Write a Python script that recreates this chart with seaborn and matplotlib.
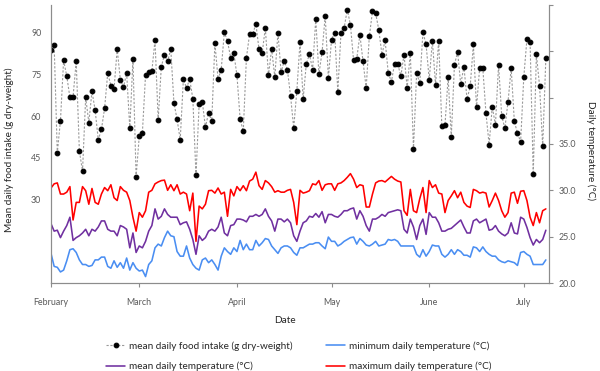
import pandas as pd
import matplotlib.pyplot as plt
import seaborn as sns

# --- Data (one value per day, 1 Feb - 8 Jul) ---
food_intake = [
    83.8, 85.6, 46.8, 58.4, 80.0, 74.4, 66.7, 67.0, 79.7, 47.5,
    40.2, 66.7, 57.7, 68.9, 62.2, 51.5, 55.2, 62.8, 75.5, 71.0,
    69.8, 84.1, 73.1, 70.4, 75.5, 55.6, 80.4, 38.2, 52.8, 54.1,
    74.9, 75.7, 76.2, 87.4, 58.6, 77.8, 82.1, 79.7, 84.1, 64.8,
    58.8, 51.5, 73.3, 70.1, 73.3, 66.2, 38.8, 64.2, 65.2, 56.0,
    61.3, 58.1, 86.3, 73.3, 76.7, 90.2, 86.9, 81.0, 82.7, 74.6,
    59.0, 54.5, 81.0, 89.4, 89.4, 93.2, 84.0, 82.7, 91.7, 74.6,
    84.2, 74.0, 90.0, 75.7, 79.9, 76.7, 67.3, 55.8, 69.1, 86.6,
    66.1, 78.8, 82.2, 76.7, 94.9, 75.1, 83.0, 96.1, 73.7, 87.4,
    90.0, 68.8, 90.0, 91.7, 98.3, 92.8, 80.0, 80.6, 89.2, 79.7,
    70.1, 88.7, 97.7, 97.0, 91.0, 82.1, 87.2, 75.5, 72.4, 78.8,
    78.8, 74.4, 82.1, 70.1, 82.8, 48.1, 75.5, 71.8, 90.1, 85.8,
    73.1, 87.1, 71.2, 87.1, 56.4, 56.8, 74.0, 52.6, 78.5, 83.0,
    71.4, 77.8, 66.1, 70.7, 85.8, 63.1, 77.4, 77.2, 61.1, 49.8,
    63.4, 56.8, 78.5, 60.1, 55.6, 65.2, 77.2, 58.2, 53.8, 50.8,
    74.0, 87.7, 86.5, 39.2, 82.2, 71.0, 49.2, 80.8,
]

temp_max = [
    30.25, 30.7, 30.8, 29.6, 29.6, 29.8, 30.4, 26.8, 28.7, 28.7,
    30.4, 29.96, 28.5, 30.2, 28.7, 28.5, 29.6, 30.3, 29.96, 30.6,
    29.2, 28.9, 30.4, 30.0, 29.8, 28.9, 27.1, 25.6, 27.6, 27.1,
    27.8, 29.8, 30.0, 30.7, 30.9, 31.05, 31.1, 30.0, 30.6, 29.96,
    30.6, 29.6, 29.8, 29.6, 27.8, 29.7, 24.5, 28.3, 28.0, 28.5,
    29.96, 30.0, 29.7, 30.25, 29.6, 29.8, 27.2, 30.1, 29.4, 30.4,
    29.96, 30.5, 29.96, 31.0, 31.2, 31.96, 30.5, 30.1, 31.05, 30.8,
    30.4, 29.8, 29.96, 29.8, 29.8, 30.0, 30.1, 28.7, 26.3,
    30.0, 29.7, 29.8, 29.96, 30.7, 30.6, 31.05, 30.0, 30.6, 30.7,
    30.7, 30.0, 30.7, 30.8, 31.05, 31.4, 31.8, 31.2, 30.3, 30.6,
    30.5, 28.2, 28.2, 29.6, 30.8, 31.0, 31.05, 30.9, 31.2, 31.5,
    31.2, 31.0, 30.9, 27.8, 27.3, 30.1, 27.8, 27.6, 29.1, 30.3,
    27.6, 31.05, 30.3, 30.6, 29.7, 29.6, 27.6, 28.9, 29.4, 29.96,
    29.2, 29.8, 28.7, 28.3,
    28.15, 30.1, 29.96, 29.7, 29.8, 29.7, 28.2, 28.9, 29.7, 28.9,
    27.8, 27.1, 27.6, 29.7, 29.8, 28.6, 29.9, 29.96, 28.9, 27.1,
    26.2, 27.6, 26.5, 27.8, 28.0,
]

temp_mean = [
    26.4, 25.6, 25.7, 24.9, 25.6, 26.2, 27.1, 24.6, 24.9, 25.1,
    25.4, 25.8, 25.1, 25.8, 25.6, 26.05, 26.7, 26.7, 25.8, 25.6,
    25.6, 25.1, 26.2, 26.05, 25.8, 23.8, 25.4, 23.3, 24.0, 23.8,
    24.5, 25.6, 26.2, 28.0, 26.9, 27.2, 28.0, 27.4, 27.1, 27.1,
    27.1, 26.3, 26.5, 26.6, 25.8, 24.7, 23.1, 25.1, 24.6, 24.9,
    25.6, 25.8, 25.6, 26.05, 27.1, 25.4, 25.1, 26.2, 26.3, 26.9,
    26.9, 26.8, 26.6, 27.2, 27.2, 27.4, 27.2, 27.4, 28.0, 27.2,
    26.7, 25.6, 26.9, 26.9, 26.6, 26.9, 26.5, 25.1, 24.5,
    25.6, 26.5, 26.7, 27.2, 27.1, 27.5, 27.1, 27.7, 26.5, 27.4,
    27.4, 27.2, 27.1, 27.4, 27.8, 27.8, 28.0, 28.1, 26.9, 27.8,
    27.2, 26.2, 25.6, 26.9, 26.9, 27.1, 27.4, 27.2, 27.6, 27.7,
    27.8, 27.9, 27.8, 25.8, 25.4, 26.9, 26.05, 24.7, 26.2, 26.9,
    25.25, 27.6, 27.1, 27.1, 26.5, 25.6, 25.6, 25.8, 25.9, 26.2,
    26.5, 26.8, 26.05, 25.4,
    25.4, 26.7, 26.9, 26.5, 26.7, 26.9, 25.7, 25.8, 26.2, 25.6,
    25.3, 25.1, 25.4, 26.5, 25.4, 25.3, 27.1, 26.9, 26.0, 24.9,
    24.1, 24.7, 24.35, 24.7, 25.7,
]

temp_min = [
    23.2, 21.8, 21.7, 21.2, 21.4, 22.4, 23.6, 23.7, 23.3, 22.5,
    22.0, 22.0, 21.8, 21.9, 22.5, 22.5, 22.8, 22.8, 21.8, 21.6,
    22.4, 21.7, 22.2, 21.6, 22.7, 21.4, 22.2, 21.6, 21.3, 21.4,
    20.7, 22.0, 22.4, 23.8, 24.2, 24.0, 24.9, 25.6, 25.1, 25.0,
    23.4, 22.9, 22.9, 24.0, 22.7, 22.0, 21.6, 21.4, 22.5, 22.7,
    22.2, 22.5, 22.0, 21.4, 22.9, 23.8, 23.4, 23.1, 23.8, 23.4,
    24.6, 23.6, 24.2, 23.6, 23.6, 24.6, 24.0, 24.35, 24.8, 24.7,
    24.0, 23.6, 23.2, 23.8, 24.0, 24.0, 23.8, 23.3, 23.0,
    23.8, 23.8, 24.0, 24.2, 24.2, 24.35, 24.35, 24.0, 23.7, 24.96,
    24.5, 24.5, 24.0, 24.2, 24.5, 24.7, 24.9, 24.96, 24.2, 24.8,
    24.5, 24.1, 24.0, 24.2, 24.5, 24.0, 24.1, 24.2, 24.7, 24.6,
    24.7, 24.5, 24.0, 24.0, 24.0, 24.0, 24.0, 23.1, 22.8, 23.6,
    22.9, 23.4, 24.1, 24.0, 24.0, 23.1, 22.8, 23.1, 23.6, 23.1,
    23.6, 23.4, 23.0, 23.0,
    22.8, 23.9, 23.8, 23.4, 23.9, 23.4, 23.1, 22.9, 22.9, 22.5,
    22.3, 22.2, 22.4, 22.3, 22.2, 21.9, 23.3, 23.4, 23.1, 22.9,
    22.0, 22.0, 22.0, 22.0, 22.5,
]

month_labels = ['February', 'March', 'April', 'May', 'June', 'July']
food_ticks = [30, 45, 60, 75, 90]
temp_ticks = [20, 25, 30, 35, 40, 45, 50]
temp_tick_labels = ['20.0', '25.0', '30.0', '35.0', '', '', '']

dates = pd.date_range('2015-02-01', periods=len(food_intake), freq='D')
month_starts = pd.date_range('2015-02-01', '2015-07-01', freq='MS')

df = pd.DataFrame({
    'date': dates,
    'food': food_intake,
    'tmin': temp_min,
    'tmean': temp_mean,
    'tmax': temp_max,
})

sns.set_style('white')
plt.rcParams['font.family'] = ['Lato', 'DejaVu Sans']

AXIS_GREY = '#8c8c8c'
TICK_TXT = '#595959'
LABEL_TXT = '#262626'

fig, ax = plt.subplots(figsize=(6, 3.71), dpi=100)
fig.subplots_adjust(left=0.085, right=0.915, bottom=0.237, top=0.987)
ax2 = ax.twinx()

# --- food intake (left axis) ---
sns.lineplot(data=df, x='date', y='food', ax=ax, color='#9a9a9a', lw=0.8,
             linestyle=(0, (2, 1.5)), marker='o', markersize=3.4,
             markerfacecolor='black', markeredgecolor='black',
             label='mean daily food intake (g dry-weight)', legend=False)

# --- temperatures (right axis) ---
sns.lineplot(data=df, x='date', y='tmin', ax=ax2, color='#4a8ef2', lw=1.15,
             label='minimum daily temperature (°C)', legend=False)
sns.lineplot(data=df, x='date', y='tmean', ax=ax2, color='#7030a0', lw=1.15,
             label='mean daily temperature (°C)', legend=False)
sns.lineplot(data=df, x='date', y='tmax', ax=ax2, color='#ff0000', lw=1.15,
             label='maximum daily temperature (°C)', legend=False)

ax.set_xlim(dates[0], dates[-1] + pd.Timedelta(days=1))
ax.set_ylim(0, 100)
ax2.set_ylim(20, 50)

ax.set_xticks(month_starts)
ax.set_xticklabels(month_labels)
ax.set_yticks(food_ticks)
ax2.set_yticks(temp_ticks)
ax2.set_yticklabels(temp_tick_labels)

ax.tick_params(axis='x', length=3, width=0.8, color=AXIS_GREY, pad=8,
               labelsize=6.4, labelcolor=TICK_TXT, bottom=True)
ax.tick_params(axis='y', length=0, pad=7, labelsize=6.4, labelcolor=TICK_TXT)
ax2.tick_params(axis='y', length=3, width=0.8, color=AXIS_GREY, pad=4,
                labelsize=6.4, labelcolor=TICK_TXT, right=True)

for a in (ax, ax2):
    a.spines['top'].set_visible(False)
    for s in ('left', 'right', 'bottom'):
        a.spines[s].set_color(AXIS_GREY)
        a.spines[s].set_linewidth(0.8)

ax.set_xlabel('Date', fontsize=7.2, color=LABEL_TXT)
ax.xaxis.set_label_coords(0.47, -0.12)
ax.set_ylabel('Mean daily food intake (g dry-weight)', fontsize=7.2, color=LABEL_TXT)
ax.yaxis.set_label_coords(-0.074, 0.478)
ax2.set_ylabel('Daily temperature (°C)', fontsize=7.2, color=LABEL_TXT, rotation=270)
ax2.yaxis.set_label_coords(1.093, 0.478)

h1 = ax.get_lines()
h2 = ax2.get_lines()
handles = [h1[0], h2[1], h2[0], h2[2]]
labels = [h.get_label() for h in handles]
fig.legend(handles, labels, ncol=2, loc='center left',
           bbox_to_anchor=(0.177, 0.04), frameon=False, borderpad=0,
           borderaxespad=0, fontsize=7.2, handlelength=1.9, handletextpad=0.4,
           columnspacing=3.3, labelspacing=1.1)

plt.savefig('out.png', dpi=100)
